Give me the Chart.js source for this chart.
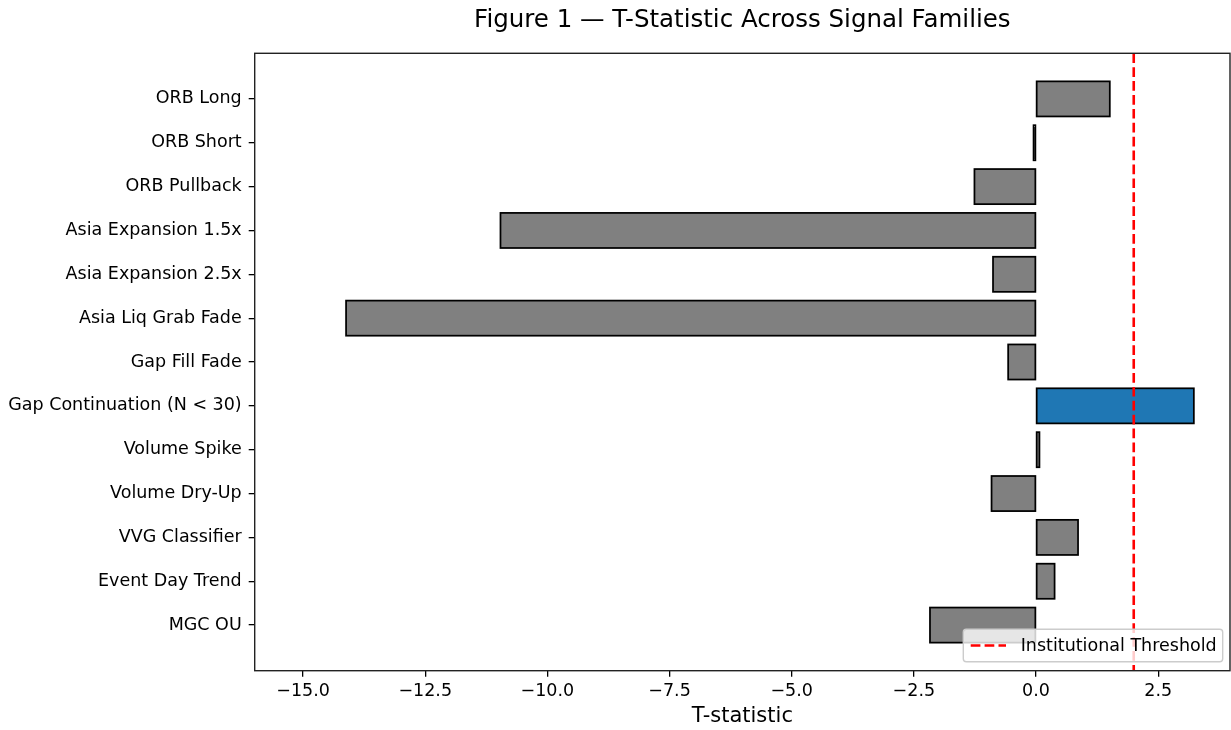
<!DOCTYPE html>
<html>
<head>
<meta charset="utf-8">
<script src="https://cdn.jsdelivr.net/npm/chart.js@4.4.1/dist/chart.umd.min.js"></script>
<style>
  html, body { margin: 0; padding: 0; background: #fff; }
  #wrap { width: 1231px; height: 730px; position: relative; }
</style>
</head>
<body>
<div id="wrap"><canvas id="c" width="1231" height="730"></canvas></div>
<script>
const categories = [
  'ORB Long', 'ORB Short', 'ORB Pullback', 'Asia Expansion 1.5x', 'Asia Expansion 2.5x',
  'Asia Liq Grab Fade', 'Gap Fill Fade', 'Gap Continuation (N < 30)', 'Volume Spike',
  'Volume Dry-Up', 'VVG Classifier', 'Event Day Trend', 'MGC OU'
];
const tStats = [1.51, -0.05, -1.26, -10.96, -0.88, -14.12, -0.57, 3.23, 0.07, -0.91, 0.86, 0.38, -2.17];
const highlighted = ['Gap Continuation (N < 30)'];
const threshold = 2.0;
const thresholdLabel = 'Institutional Threshold';
const xTicks = [-15, -12.5, -10, -7.5, -5, -2.5, 0, 2.5];
const titleText = 'Figure 1 — T-Statistic Across Signal Families';
const xLabel = 'T-statistic';

const FONT = "'DejaVu Sans', sans-serif";
const Y_MIN = -1.04, Y_MAX = categories.length - 1 + 1.04;

const barData = categories.map((c, i) => ({ x: tStats[i], y: i }));
const barColors = categories.map(c => highlighted.includes(c) ? '#1f77b4' : '#808080');

const decor = {
  id: 'decor',
  afterDatasetDraw(chart, args) {
    if (args.index !== 0) return;
    // centred bar edges (matplotlib style), from the library's bar elements
    const ctx = chart.ctx;
    ctx.save();
    ctx.strokeStyle = '#000';
    ctx.lineWidth = 1.75;
    ctx.lineJoin = 'miter';
    args.meta.data.forEach(el => {
      const p = el.getProps(['x', 'y', 'base', 'height'], true);
      const l = Math.min(p.x, p.base), r = Math.max(p.x, p.base);
      ctx.strokeRect(l, p.y - p.height / 2, r - l, p.height);
    });
    ctx.restore();
  },
  afterDatasetsDraw(chart) {
    const ctx = chart.ctx, a = chart.chartArea;
    ctx.save();
    // spines
    ctx.strokeStyle = '#222';
    ctx.lineWidth = 1.4;
    ctx.strokeRect(a.left, a.top, a.right - a.left, a.bottom - a.top);
    // legend
    const bx = a.right - 266.7, by = a.bottom - 41.4, bw = 259.4, bh = 32.4;
    ctx.beginPath();
    if (ctx.roundRect) ctx.roundRect(bx, by, bw, bh, 3); else ctx.rect(bx, by, bw, bh);
    ctx.fillStyle = 'rgba(255,255,255,0.8)';
    ctx.fill();
    ctx.strokeStyle = '#cccccc';
    ctx.lineWidth = 1.4;
    ctx.stroke();
    const ly = by + bh / 2;
    ctx.beginPath();
    ctx.setLineDash([9.7, 4.2]);
    ctx.strokeStyle = '#ff0000';
    ctx.lineWidth = 2.6;
    ctx.moveTo(bx + 7.4, ly);
    ctx.lineTo(bx + 42.7, ly);
    ctx.stroke();
    ctx.setLineDash([]);
    ctx.fillStyle = '#000';
    ctx.font = '17.5px ' + FONT;
    ctx.textAlign = 'left';
    ctx.textBaseline = 'middle';
    ctx.fillText(thresholdLabel, bx + 57.4, ly + 0.5);
    // title & x label
    const cx = (a.left + a.right) / 2;
    ctx.textAlign = 'center';
    ctx.font = '24.5px ' + FONT;
    ctx.fillText(titleText, cx, 20.5);
    ctx.font = '21px ' + FONT;
    ctx.fillText(xLabel, cx, 717);
    ctx.restore();
  }
};

new Chart(document.getElementById('c'), {
  type: 'bar',
  data: {
    datasets: [
      {
        type: 'bar',
        label: 'T-statistic',
        data: barData,
        backgroundColor: barColors,
        borderWidth: 0,
        categoryPercentage: 1.0,
        barPercentage: 0.8,
        order: 2
      },
      {
        type: 'line',
        label: thresholdLabel,
        data: [{ x: threshold, y: Y_MIN }, { x: threshold, y: Y_MAX }],
        borderColor: '#ff0000',
        borderWidth: 2.6,
        borderDash: [9.7, 4.2],
        pointRadius: 0,
        fill: false,
        order: 1
      }
    ]
  },
  options: {
    indexAxis: 'y',
    responsive: false,
    animation: false,
    devicePixelRatio: 1,
    layout: { padding: { top: 53.3, right: 1, left: 0, bottom: 0 } },
    plugins: {
      legend: { display: false },
      title: { display: false },
      tooltip: { enabled: false }
    },
    scales: {
      x: {
        type: 'linear',
        min: -15.99,
        max: 3.97,
        offset: false,
        afterBuildTicks(axis) { axis.ticks = xTicks.map(v => ({ value: v })); },
        afterFit(scale) { scale.height = 730 - 670.7; },
        grid: { display: true, offset: false, drawOnChartArea: false, drawTicks: true, tickLength: 6, color: '#000', lineWidth: 1.3 },
        border: { display: false },
        ticks: {
          color: '#000',
          padding: 4,
          font: { family: FONT, size: 17.5 },
          maxRotation: 0,
          autoSkip: false,
          callback: v => v.toFixed(1).replace('-', '\u2212')
        }
      },
      y: {
        type: 'linear',
        reverse: true,
        offset: false,
        min: Y_MIN,
        max: Y_MAX,
        afterBuildTicks(axis) { axis.ticks = categories.map((c, i) => ({ value: i })); },
        afterFit(scale) { scale.width = 254.7; },
        grid: { display: true, offset: false, drawOnChartArea: false, drawTicks: true, tickLength: 6, color: '#000', lineWidth: 1.3 },
        border: { display: false },
        ticks: {
          color: '#000',
          padding: 7,
          font: { family: FONT, size: 17.5 },
          autoSkip: false,
          callback: v => categories[v] !== undefined ? categories[v] : ''
        }
      }
    }
  },
  plugins: [decor]
});
</script>
</body>
</html>
